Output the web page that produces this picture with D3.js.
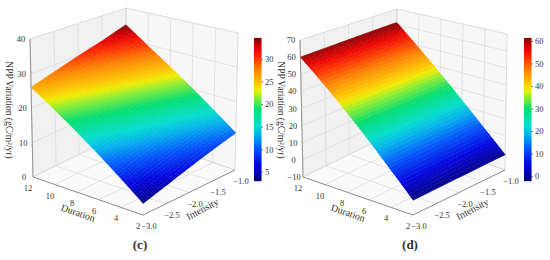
<!DOCTYPE html>
<html>
<head>
<meta charset="utf-8">
<script src="https://cdn.jsdelivr.net/npm/d3@7"></script>
<style>
  html, body { margin: 0; padding: 0; background: #fff; }
  svg { display: block; }
  text { font-family: "Liberation Serif", serif; fill: #333; }
</style>
</head>
<body>
<svg id="chart" width="550" height="260"></svg>
<script>
const durations = [2, 4, 6, 8, 10, 12];
const intensities = [-3, -2.5, -2, -1.5, -1];

// NPP variation, one row per duration
const nppC = [
  [3.0, 4.9, 6.9, 8.9, 10.8],
  [7.6, 9.6, 11.6, 13.5, 15.5],
  [12.2, 14.2, 16.2, 18.2, 20.2],
  [16.8, 18.8, 20.8, 22.8, 24.9],
  [21.4, 23.4, 25.5, 27.5, 29.6],
  [26.0, 28.0, 30.1, 32.1, 34.6]
];
const nppD = [
  [-2.2, -1.9, -1.6, -1.3, -1.0],
  [9.8, 10.1, 10.4, 10.7, 11.0],
  [22.3, 22.6, 22.9, 23.2, 23.5],
  [34.9, 35.2, 35.5, 35.8, 36.1],
  [47.5, 47.8, 48.1, 48.4, 48.7],
  [60.0, 60.4, 60.7, 61.0, 61.3]
];

const zTicksC = [0, 10, 20, 30, 40];
const zTicksD = [-10, 0, 10, 20, 30, 40, 50, 60, 70];
const barTicksC = [5, 10, 15, 20, 25, 30];
const barTicksD = [0, 10, 20, 30, 40, 50, 60];

const colorStops = [
  [0, "#000080"], [0.11, "#0000e0"], [0.22, "#0050ff"], [0.32, "#00b0f0"],
  [0.39, "#00e0d0"], [0.5, "#00e070"], [0.587, "#90f030"], [0.636, "#f0f000"],
  [0.67, "#ffd000"], [0.78, "#ff8000"], [0.86, "#ff3000"], [0.92, "#ee0000"], [1, "#800000"]
];

const svg = d3.select("#chart");
const MESH = 46;

function drawPanel(opt) {
  const g = svg.append("g");
  const c = opt.corners;

  const xScale = d3.scaleLinear().domain([12, 2]).range([0, 1]);
  const yScale = d3.scaleLinear().domain([-3, -1]).range([0, 1]);
  const zScale = d3.scaleLinear().domain(opt.zDomain).range([0, 1]);
  const color = d3.scaleLinear()
    .domain(colorStops.map(s => opt.barDomain[0] + s[0] * (opt.barDomain[1] - opt.barDomain[0])))
    .range(colorStops.map(s => s[1]))
    .clamp(true);

  // trilinear between the 8 cube corners stands in for the perspective camera
  function project(d, i, z) {
    const u = xScale(d), v = yScale(i), w = zScale(z);
    const lerp = (a, b, t) => [a[0] + (b[0] - a[0]) * t, a[1] + (b[1] - a[1]) * t];
    const low = lerp(lerp(c.L0, c.F0, u), lerp(c.B0, c.R0, u), v);
    const high = lerp(lerp(c.L1, c.F1, u), lerp(c.B1, c.R1, u), v);
    return lerp(low, high, w);
  }

  const line = d3.line();
  const zMin = opt.zDomain[0], zMax = opt.zDomain[1];

  // panes
  g.append("path").attr("fill", "#f1f1f1").attr("stroke", "#e2e2e2").attr("stroke-width", 0.6)
    .attr("d", line([project(12, -3, zMin), project(12, -1, zMin), project(12, -1, zMax), project(12, -3, zMax)]) + "Z");
  g.append("path").attr("fill", "#f7f7f7").attr("stroke", "#e2e2e2").attr("stroke-width", 0.6)
    .attr("d", line([project(12, -1, zMin), project(2, -1, zMin), project(2, -1, zMax), project(12, -1, zMax)]) + "Z");
  g.append("path").attr("fill", "#fafafa")
    .attr("d", line([project(12, -3, zMin), project(2, -3, zMin), project(2, -1, zMin), project(12, -1, zMin)]) + "Z");

  // grid lines on the panes
  const grid = g.append("g").attr("fill", "none").attr("stroke", "#d9d9d9").attr("stroke-width", 0.7);
  opt.zTicks.forEach(t => {
    grid.append("path").attr("d", line([project(12, -3, t), project(12, -1, t), project(2, -1, t)]));
  });
  durations.forEach(t => {
    grid.append("path").attr("d", line([project(t, -3, zMin), project(t, -1, zMin), project(t, -1, zMax)]));
  });
  intensities.forEach(t => {
    grid.append("path").attr("d", line([project(2, t, zMin), project(12, t, zMin), project(12, t, zMax)]));
  });

  // axis lines
  const axes = g.append("g").attr("fill", "none").attr("stroke", "#8a8a8a").attr("stroke-width", 0.9);
  axes.append("path").attr("d", line([project(12, -3, zMax), project(12, -3, zMin), project(2, -3, zMin), project(2, -1, zMin)]));

  // surface, each grid cell is split up for shading
  const dPos = d3.scaleLinear().domain([0, MESH]).range([2, 12]);
  const iPos = d3.scaleLinear().domain([0, MESH]).range([-3, -1]);
  const dIdx = d3.scaleLinear().domain(durations).range(d3.range(durations.length));
  const iIdx = d3.scaleLinear().domain(intensities).range(d3.range(intensities.length));
  function surf(d, i) {
    const a = dIdx(d), b = iIdx(i);
    const a0 = Math.min(Math.floor(a), durations.length - 2), b0 = Math.min(Math.floor(b), intensities.length - 2);
    const s = a - a0, t = b - b0, m = opt.values;
    return (m[a0][b0] * (1 - t) + m[a0][b0 + 1] * t) * (1 - s) + (m[a0 + 1][b0] * (1 - t) + m[a0 + 1][b0 + 1] * t) * s;
  }
  const cells = [];
  d3.range(MESH).forEach(a => d3.range(MESH).forEach(b => cells.push([a, b])));
  g.append("g").selectAll("path")
    .data(cells)
    .enter().append("path")
    .attr("d", ([a, b]) => {
      const d0 = dPos(a), d1 = dPos(a + 1), i0 = iPos(b), i1 = iPos(b + 1);
      return line([
        project(d0, i0, surf(d0, i0)), project(d1, i0, surf(d1, i0)),
        project(d1, i1, surf(d1, i1)), project(d0, i1, surf(d0, i1))
      ]) + "Z";
    })
    .attr("fill", ([a, b]) => color(surf(dPos(a + 0.5), iPos(b + 0.5))))
    .attr("stroke", ([a, b]) => d3.color(color(surf(dPos(a + 0.5), iPos(b + 0.5)))).darker(0.12))
    .attr("stroke-width", 0.4);

  // tick labels
  const labels = g.append("g").attr("font-size", 8.5).attr("text-anchor", "middle");
  opt.zTicks.forEach(t => {
    const p = project(12, -3, t);
    labels.append("text").attr("x", p[0] - 9).attr("y", p[1] + 3).text(d3.format("d")(t).replace("-", "\u2212"));
  });
  durations.forEach(t => {
    const p = project(t, -3, zMin);
    labels.append("text").attr("x", p[0] - 5).attr("y", p[1] + 14).text(t);
  });
  intensities.forEach(t => {
    const p = project(2, t, zMin);
    labels.append("text").attr("x", p[0] + 6).attr("y", p[1] + 14)
      .text(d3.format(".1f")(t).replace("-", "\u2212"));
  });

  // axis titles
  const title = g.append("g").attr("font-size", 10).attr("text-anchor", "middle");
  title.append("text").attr("transform", `translate(${opt.durTitle}) rotate(19)`).text("Duration");
  title.append("text").attr("transform", `translate(${opt.intTitle}) rotate(-28)`).text("Intensity");
  title.append("text").attr("font-size", 9.5)
    .attr("transform", `translate(${opt.zTitle}) rotate(90)`).text("NPP Variation (gC/m\u00b2/yr)");

  g.append("text").attr("x", opt.tag[0]).attr("y", opt.tag[1]).attr("text-anchor", "middle")
    .attr("font-size", 13).attr("font-weight", "bold").text(opt.tagText);

  // colour bar
  const barY = d3.scaleLinear().domain(opt.barDomain).range([181, 38]);
  const bar = g.append("g").attr("transform", `translate(${opt.barX},0)`);
  bar.selectAll("rect")
    .data(d3.range(38, 181))
    .enter().append("rect")
    .attr("x", 0).attr("width", 7.5)
    .attr("y", d => d).attr("height", 1.2)
    .attr("fill", d => color(barY.invert(d + 0.5)));
  const barAxis = d3.axisRight(barY).tickValues(opt.barTicks).tickSize(1.5).tickPadding(2)
    .tickFormat(d3.format("d"));
  const ax = bar.append("g").attr("transform", "translate(7.5,0)").call(barAxis)
    .attr("font-family", null).attr("font-size", 8.5);
  ax.select(".domain").remove();
  ax.selectAll("line").attr("stroke", "#666");
}

drawPanel({
  values: nppC,
  zDomain: [0, 40],
  zTicks: zTicksC,
  barDomain: [3, 34.6],
  barTicks: barTicksC,
  barX: 254,
  corners: {
    L0: [33, 177], F0: [143, 215], R0: [235, 170], B0: [125, 132],
    L1: [30, 39], F1: [145, 62], R1: [238, 33], B1: [126, 8]
  },
  durTitle: [77, 216],
  intTitle: [204, 212],
  zTitle: [6, 110],
  tag: [140, 249],
  tagText: "(c)"
});

drawPanel({
  values: nppD,
  zDomain: [-10, 70],
  zTicks: zTicksD,
  barDomain: [-2.2, 61.3],
  barTicks: barTicksD,
  barX: 524,
  corners: {
    L0: [303, 177], F0: [413, 215], R0: [505, 170], B0: [395, 132],
    L1: [300, 40], F1: [415, 63], R1: [507, 34], B1: [397, 9]
  },
  durTitle: [347, 216],
  intTitle: [474, 212],
  zTitle: [278, 110],
  tag: [410, 249],
  tagText: "(d)"
});
</script>
</body>
</html>
